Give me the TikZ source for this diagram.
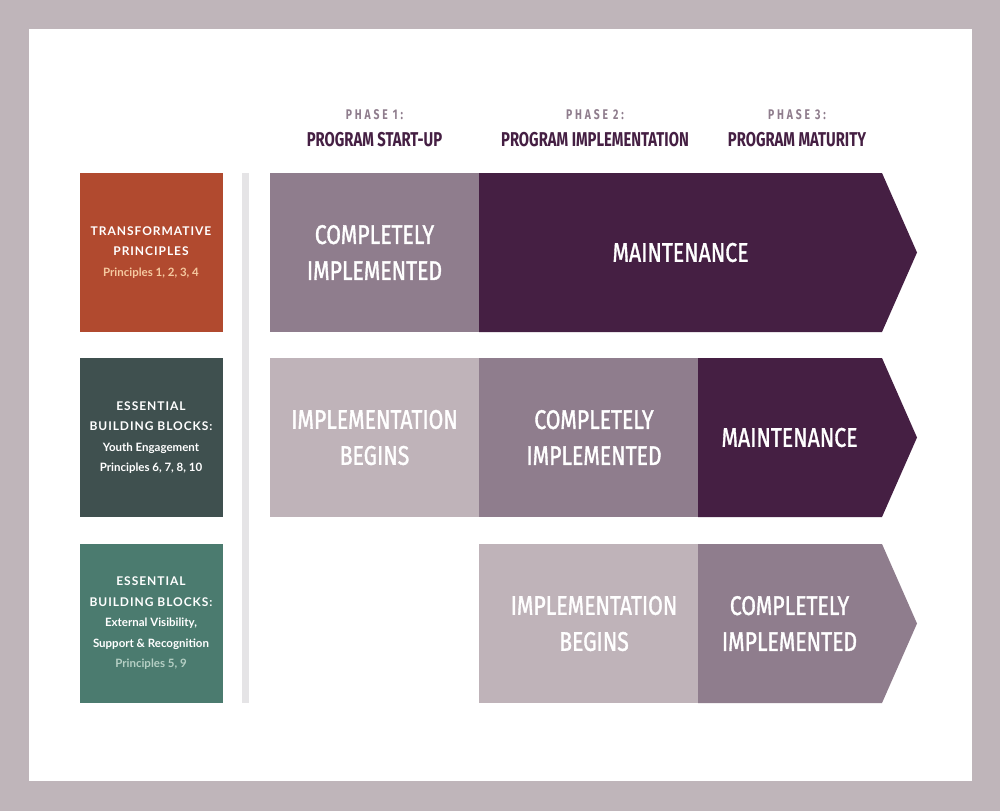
\documentclass[tikz,border=0pt]{standalone}
\usepackage{fontspec}
\setmainfont{Lato}
\newfontfamily\cond[FakeStretch=0.74]{Fira Sans}
\newfontfamily\condm[FakeStretch=0.785,FakeBold=1.3]{Fira Sans}
\newfontfamily\spaced[LetterSpace=8]{Lato}
\definecolor{frame}{HTML}{BFB5BA}
\definecolor{lightm}{HTML}{BFB3B9}
\definecolor{midm}{HTML}{8F7D8D}
\definecolor{darkp}{HTML}{451F43}
\definecolor{rust}{HTML}{B14A2F}
\definecolor{teal}{HTML}{3F504F}
\definecolor{sage}{HTML}{4B7B6F}
\definecolor{rule}{HTML}{E5E4E6}
\definecolor{peach}{HTML}{F5C9A0}
\definecolor{mint}{HTML}{B5CFC4}
\begin{document}
\begin{tikzpicture}[x=1pt,y=-1pt,
  cell/.style={inner sep=0pt,outer sep=0pt,minimum width=#1,minimum height=159pt,anchor=north west,
    text=white,align=center,font={\condm\fontsize{27}{36}\selectfont}},
  celltext/.style={inner sep=0pt,text=white,align=center,font={\condm\fontsize{27}{36}\selectfont}},
  lbox/.style={inner sep=0pt,outer sep=0pt,minimum width=143pt,minimum height=159pt,
    text=white,align=center,font={\fontsize{11.5}{20.5}\selectfont\bfseries}},
  phase/.style={inner sep=0pt,text=midm,font={\cond\bfseries\addfontfeature{LetterSpace=20}\fontsize{14}{15}\selectfont}},
  prog/.style={inner sep=0pt,text=darkp,font={\cond\bfseries\fontsize{20}{24}\selectfont}}
]
\fill[frame] (0,0) rectangle (1000,811);
\fill[white] (29,29) rectangle (972,781);
\useasboundingbox (0,0) rectangle (1000,811);

% headings
\node[phase] (p1) at (374.5,114.5) {PHASE 1:};
\node[prog]  (g1) at (374.5,140) {PROGRAM START-UP};
\node[phase] (p2) at (595,114.5) {PHASE 2:};
\node[prog]  (g2) at (595,140) {PROGRAM IMPLEMENTATION};
\node[phase] (p3) at (797,114.5) {PHASE 3:};
\node[prog]  (g3) at (797,140) {PROGRAM MATURITY};

% left boxes
\newcommand{\capsline}[1]{{\spaced\fontsize{12}{20.5}\selectfont\bfseries #1}}
\node[lbox,fill=rust] (l1) at (151,252.5) {\capsline{TRANSFORMATIVE}\\\capsline{PRINCIPLES}\\\textcolor{peach}{Principles 1, 2, 3, 4}};
\node[lbox,fill=teal] (l2) at (151,437.5) {\capsline{ESSENTIAL}\\\capsline{BUILDING BLOCKS:}\\Youth Engagement\\Principles 6, 7, 8, 10};
\node[lbox,fill=sage] (l3) at (151,623.5) {\capsline{ESSENTIAL}\\\capsline{BUILDING BLOCKS:}\\External Visibility,\\Support \& Recognition\\\textcolor{mint}{Principles 5, 9}};

% divider
\fill[rule] (242,173) rectangle (249,703);

% row 1
\node[cell=209pt,fill=midm] (r1a) at (270,173) {COMPLETELY\\IMPLEMENTED};
\fill[darkp] (479,173) -- (882,173) -- (917,252.5) -- (882,332) -- (479,332) -- cycle;
\node[celltext] (r1b) at (680.5,252.5) {MAINTENANCE};

% row 2
\node[cell=209pt,fill=lightm] (r2a) at (270,358) {IMPLEMENTATION\\BEGINS};
\node[cell=219pt,fill=midm] (r2b) at (479,358) {};
\node[celltext] (r2bt) at (594,437.5) {COMPLETELY\\IMPLEMENTED};
\fill[darkp] (698,358) -- (882,358) -- (917,437.5) -- (882,517) -- (698,517) -- cycle;
\node[celltext] (r2c) at (789.5,437.5) {MAINTENANCE};

% row 3
\node[cell=219pt,fill=lightm] (r3a) at (479,544) {};
\node[celltext] (r3at) at (594,623.5) {IMPLEMENTATION\\BEGINS};
\fill[midm] (698,544) -- (882,544) -- (917,623.5) -- (882,703) -- (698,703) -- cycle;
\node[celltext] (r3b) at (789.5,623.5) {COMPLETELY\\IMPLEMENTED};
\end{tikzpicture}
\end{document}
